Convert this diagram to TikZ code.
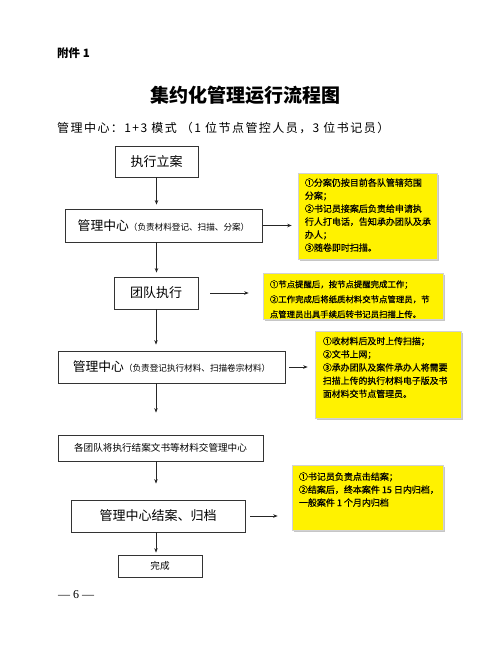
\documentclass[tikz,border=0pt]{standalone}
\usepackage{fontspec}
\setmainfont{Noto Sans CJK SC}
\newfontfamily\cjk{Noto Sans CJK SC}
\newfontfamily\cjknote{Noto Sans CJK SC}[FakeBold=0.6]
\newfontfamily\cjkwide{Noto Sans CJK SC}[LetterSpace=12]
\newfontfamily\lat{Liberation Serif}
\usetikzlibrary{arrows.meta,shadows}
\begin{document}
\begin{tikzpicture}[x=1pt,y=-1pt,
  flowbox/.style={draw=black!80,line width=0.8pt,rectangle,inner sep=0pt,font=\cjk},
  notebox/.style={fill=yellow,draw=gray!35,line width=0.6pt,inner sep=0pt,
     drop shadow={shadow xshift=1.8pt,shadow yshift=-1.8pt,fill=gray!45,opacity=1}},
  notetext/.style={anchor=north west,inner sep=0pt,align=left,font=\cjknote\fontsize{9}{13}\selectfont},
  arr/.style={-{Stealth[length=4.5pt,width=3.5pt]},line width=0.7pt,black!85}]
\useasboundingbox (0,0) rectangle (484,650);

% header
\node[anchor=west,font=\cjk\bfseries\fontsize{11.5}{12}\selectfont,inner sep=0] (hdr) at (57,53) {附件 1};
\node[font=\cjk\bfseries\fontsize{19}{20}\selectfont,inner sep=0] (title) at (245,95) {集约化管理运行流程图};
\node[anchor=west,font=\cjkwide\fontsize{12}{12}\selectfont,inner sep=0] (sub) at (57,128) {管理中心：1+3 模式 （1 位节点管控人员，3 位书记员）};

% flow boxes
\node[flowbox,minimum width=83pt,minimum height=31pt,font=\cjk\fontsize{13}{13}\selectfont] (b1) at (156.5,161.5) {执行立案};
\node[flowbox,minimum width=197pt,minimum height=33pt] (b2) at (163.5,225.5) {{\fontsize{12.8}{13}\selectfont 管理中心}{\fontsize{8.6}{9}\selectfont （负责材料登记、扫描、分案）}};
\node[flowbox,minimum width=84pt,minimum height=32pt,font=\cjk\fontsize{13}{13}\selectfont] (b3) at (156,293) {团队执行};
\node[flowbox,minimum width=227pt,minimum height=32pt] (b4) at (171.5,367) {{\fontsize{12.8}{13}\selectfont 管理中心}{\fontsize{8.6}{9}\selectfont （负责登记执行材料、扫描卷宗材料）}};
\node[flowbox,minimum width=205pt,minimum height=26pt,font=\cjk\fontsize{9.6}{10}\selectfont] (b5) at (160.5,448) {各团队将执行结案文书等材料交管理中心};
\node[flowbox,minimum width=174pt,minimum height=32pt,font=\cjk\fontsize{13}{13}\selectfont] (b6) at (158,516) {管理中心结案、归档};
\node[flowbox,minimum width=84pt,minimum height=22pt,font=\cjk\fontsize{9.6}{10}\selectfont] (b7) at (160,566) {完成};

% note boxes
\node[notebox,minimum width=139pt,minimum height=86pt] (y1) at (367.5,216) {};
\node[notetext] (t1) at ([xshift=7pt,yshift=-5.5pt]y1.north west) {①分案仍按目前各队管辖范围\\分案；\\②书记员接案后负责给申请执\\行人打电话，告知承办团队及承\\办人；\\③随卷即时扫描。};
\node[notebox,minimum width=180pt,minimum height=46pt] (y2) at (353,296.5) {};
\node[notetext,font=\cjknote\fontsize{8.4}{15}\selectfont] (t2) at ([xshift=7pt,yshift=-7pt]y2.north west) {①节点提醒后，按节点提醒完成工作；\\②工作完成后将纸质材料交节点管理员，节\\点管理员出具手续后转书记员扫描上传。};
\node[notebox,minimum width=146pt,minimum height=87pt] (y3) at (388,374.5) {};
\node[notetext,font=\cjknote\fontsize{8.9}{13.2}\selectfont] (t3) at ([xshift=8pt,yshift=-6pt]y3.north west) {①收材料后及时上传扫描；\\②文书上网；\\③承办团队及案件承办人将需要\\扫描上传的执行材料电子版及书\\面材料交节点管理员。};
\node[notebox,minimum width=151pt,minimum height=65pt] (y4) at (367.5,497.5) {};
\node[notetext] (t4) at ([xshift=7pt,yshift=-7.5pt]y4.north west) {①书记员负责点击结案；\\②结案后，终本案件 15 日内归档，\\一般案件 1 个月内归档};

% vertical arrows
\draw[arr] (b1.south) -- ([yshift=4pt]b1.south |- b2.north);
\draw[arr] (b1.south |- b2.south) -- ([yshift=4pt]b1.south |- b3.north);
\draw[arr] (b3.south) -- ([yshift=6pt]b3.south |- b4.north);
\draw[arr] (b3.south |- b4.south) -- ([yshift=22pt]b3.south |- b5.north);
\draw[arr] (b3.south |- b5.south) -- ([yshift=16pt]b3.south |- b6.north);
\draw[arr] (b3.south |- b6.south) -- ([yshift=2pt]b3.south |- b7.north);

% horizontal arrows
\draw[arr] ([xshift=1pt]b2.east) -- ([xshift=-6pt]y1.west |- b2.east);
\draw[arr] ([xshift=12pt]b3.east) -- ([xshift=-14pt]y2.west |- b3.east);
\draw[arr] ([xshift=4pt]b4.east) -- ([xshift=-7pt]y3.west |- b4.east);
\draw[arr] ([xshift=5pt]b6.east) -- ([xshift=-14pt]y4.west |- b6.east);

% page number
\node[anchor=west,font=\lat\fontsize{12}{12}\selectfont,inner sep=0] (pg) at (58,595) {— 6 —};
\end{tikzpicture}
\end{document}
